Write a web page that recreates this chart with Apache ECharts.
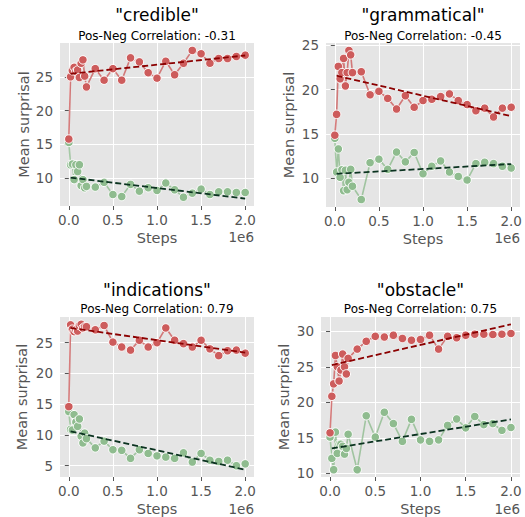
<!DOCTYPE html>
<html>
<head>
<meta charset="utf-8">
<script src="https://cdn.jsdelivr.net/npm/echarts@6/dist/echarts.min.js"></script>
<style>html,body{margin:0;padding:0;background:#fff}#c{width:525px;height:517px}</style>
</head>
<body>
<div id="c"></div>
<script>
const steps = [0, 20000, 40000, 60000, 80000, 100000, 120000, 140000, 160000, 180000, 200000,
  300000, 400000, 500000, 600000, 700000, 800000, 900000, 1000000, 1100000, 1200000,
  1300000, 1400000, 1500000, 1600000, 1700000, 1800000, 1900000, 2000000];
const words = ['"credible"', '"grammatical"', '"indications"', '"obstacle"'];
const correlations = ['-0.31', '-0.45', '0.79', '0.75'];

const credibleRed = [15.8, 25.0, 25.9, 26.4, 25.8, 26.0, 24.9, 27.0, 27.5, 25.1, 23.5, 26.2, 24.5, 26.2, 24.5, 27.8, 27.2, 25.6, 24.8, 27.3, 25.3, 27.0, 28.9, 28.4, 27.0, 27.7, 27.7, 28.0, 28.2];
const credibleGreen = [15.3, 12.0, 12.1, 9.8, 12.0, 11.0, 12.0, 8.9, 9.8, 8.6, 8.8, 8.7, 9.4, 7.6, 7.3, 9.1, 8.1, 8.6, 8.2, 9.3, 8.3, 7.2, 7.8, 8.4, 7.6, 8.0, 8.0, 7.9, 7.9];
const grammaticalRed = [14.85, 17.2, 22.6, 21.2, 21.9, 23.5, 20.4, 21.9, 24.4, 23.9, 21.9, 22.0, 19.4, 19.8, 19.0, 17.8, 19.3, 18.0, 18.75, 18.9, 19.2, 19.5, 18.75, 18.3, 17.6, 17.9, 16.9, 17.9, 18.0];
const grammaticalGreen = [14.5, 10.7, 13.3, 10.1, 10.95, 8.6, 10.9, 8.7, 9.55, 11.0, 9.1, 7.6, 11.75, 12.15, 11.0, 12.95, 11.85, 12.9, 10.5, 11.35, 11.95, 10.7, 10.2, 9.8, 11.65, 11.8, 11.65, 11.35, 11.15];
const indicationsRed = [14.6, 27.9, 27.2, 26.8, 27.1, 26.9, 27.8, 28.0, 27.4, 27.6, 27.6, 27.1, 27.8, 25.1, 24.3, 23.8, 25.4, 24.3, 25.0, 27.4, 25.4, 24.85, 24.3, 25.4, 24.0, 22.9, 23.7, 23.8, 23.3];
const indicationsGreen = [13.8, 10.9, 10.8, 13.3, 12.1, 11.4, 12.6, 9.8, 8.7, 10.3, 9.4, 7.9, 9.0, 7.6, 7.5, 6.2, 7.6, 7.0, 6.6, 6.4, 6.2, 7.1, 5.6, 7.0, 5.9, 5.7, 5.9, 5.0, 5.3];
const obstacleRed = [15.7, 20.85, 22.6, 26.6, 25.0, 23.0, 24.55, 26.8, 25.0, 24.0, 26.2, 27.5, 28.6, 29.3, 29.2, 29.45, 29.0, 28.75, 28.85, 29.45, 27.5, 29.3, 29.1, 29.45, 29.6, 29.6, 29.55, 29.6, 29.7];
const obstacleGreen = [15.1, 12.1, 10.5, 15.8, 12.8, 14.1, 14.1, 13.8, 12.7, 13.5, 15.5, 10.5, 18.1, 15.1, 18.6, 17.0, 14.5, 17.6, 14.7, 14.5, 14.7, 16.75, 17.65, 16.4, 18.0, 16.85, 17.0, 16.05, 16.45];

const trendSteps = [20000, 2000000];
const credibleRedTrend = [25.45, 28.15];
const credibleGreenTrend = [10.1, 7.0];
const grammaticalRedTrend = [21.55, 17.0];
const grammaticalGreenTrend = [10.5, 11.6];
const indicationsRedTrend = [27.4, 23.4];
const indicationsGreenTrend = [10.6, 4.35];
const obstacleRedTrend = [25.25, 31.0];
const obstacleGreenTrend = [13.5, 17.6];

const xTicks = [0, 500000, 1000000, 1500000, 2000000];
const yTicks = [[10, 15, 20, 25], [10, 15, 20, 25], [5, 10, 15, 20, 25], [10, 15, 20, 25, 30]];

const reds = [credibleRed, grammaticalRed, indicationsRed, obstacleRed];
const greens = [credibleGreen, grammaticalGreen, indicationsGreen, obstacleGreen];
const redTrends = [credibleRedTrend, grammaticalRedTrend, indicationsRedTrend, obstacleRedTrend];
const greenTrends = [credibleGreenTrend, grammaticalGreenTrend, indicationsGreenTrend, obstacleGreenTrend];

const grids = [
  {left: 60, top: 43, width: 194, height: 163},
  {left: 326, top: 43, width: 194, height: 164},
  {left: 60, top: 317, width: 194, height: 161},
  {left: 321, top: 317, width: 199, height: 161}
];
const yNameGap = [25, 30, 31, 30];
const titleY = [[15, 35.5], [15, 35.5], [289.5, 308.5], [289.5, 308.5]];

const FONT = 'DejaVu Sans';
const GRAY = '#555555';
const RED = '#CD5C5C', GREEN = '#8FBC8F';

const zip = (xs, ys) => xs.map((x, i) => [x, ys[i]]);

const option = {
  animation: false,
  backgroundColor: '#ffffff',
  grid: grids.map(g => Object.assign({show: true, backgroundColor: '#E5E5E5', borderWidth: 0}, g)),
  xAxis: grids.map((g, i) => ({
    type: 'value', gridIndex: i, min: -100000, max: 2100000,
    name: 'Steps', nameLocation: 'middle', nameGap: 24,
    nameTextStyle: {fontFamily: FONT, fontSize: 14.5, color: GRAY},
    axisLine: {show: false},
    axisTick: {show: true, length: 4, lineStyle: {color: GRAY}, customValues: xTicks},
    axisLabel: {fontFamily: FONT, fontSize: 13.5, color: GRAY, margin: 7, customValues: xTicks,
      formatter: v => (v / 1e6).toFixed(1)},
    splitLine: {show: true, lineStyle: {color: '#ffffff', width: 1}}
  })),
  yAxis: grids.map((g, i) => ({
    type: 'value', gridIndex: i,
    min: v => v.min - 0.05 * (v.max - v.min),
    max: v => v.max + 0.05 * (v.max - v.min),
    name: 'Mean surprisal', nameLocation: 'middle', nameGap: yNameGap[i], nameRotate: 90,
    nameTextStyle: {fontFamily: FONT, fontSize: 14.5, color: GRAY},
    axisLine: {show: false},
    axisTick: {show: true, length: 4, lineStyle: {color: GRAY}, customValues: yTicks[i]},
    axisLabel: {fontFamily: FONT, fontSize: 13.5, color: GRAY, margin: 7, customValues: yTicks[i]},
    splitLine: {show: true, lineStyle: {color: '#ffffff', width: 1}}
  })),
  series: [],
  graphic: []
};

for (let i = 0; i < 4; i++) {
  const common = {type: 'line', xAxisIndex: i, yAxisIndex: i, symbol: 'circle', symbolSize: 8.5, z: 2};
  option.series.push(Object.assign({}, common, {
    data: zip(steps, greens[i]),
    itemStyle: {color: GREEN, borderColor: '#ffffff', borderWidth: 1},
    lineStyle: {color: GREEN, width: 1.6, opacity: 0.8}
  }));
  option.series.push(Object.assign({}, common, {
    data: zip(steps, reds[i]),
    itemStyle: {color: RED, borderColor: '#ffffff', borderWidth: 1},
    lineStyle: {color: RED, width: 1.6, opacity: 0.8}
  }));
  option.series.push({
    type: 'line', xAxisIndex: i, yAxisIndex: i, symbol: 'none', z: 3,
    data: zip(trendSteps, redTrends[i]),
    lineStyle: {color: '#8B0000', width: 1.8, type: [6, 3]}
  });
  option.series.push({
    type: 'line', xAxisIndex: i, yAxisIndex: i, symbol: 'none', z: 3,
    data: zip(trendSteps, greenTrends[i]),
    lineStyle: {color: '#0B3320', width: 1.8, type: [6, 3]}
  });
  const g = grids[i];
  const cx = g.left + g.width / 2;
  option.graphic.push({type: 'text', x: cx, y: titleY[i][0],
    style: {text: words[i], font: 'normal 400 17px "DejaVu Sans"', fill: '#000', textAlign: 'center', textVerticalAlign: 'middle'}});
  option.graphic.push({type: 'text', x: cx, y: titleY[i][1],
    style: {text: 'Pos-Neg Correlation: ' + correlations[i], font: 'normal 400 12px "DejaVu Sans"', fill: '#000', textAlign: 'center', textVerticalAlign: 'middle'}});
  option.graphic.push({type: 'text', x: g.left + g.width, y: g.top + g.height + 31,
    style: {text: '1e6', font: 'normal 400 13.5px "DejaVu Sans"', fill: GRAY, textAlign: 'right', textVerticalAlign: 'middle'}});
}

const chart = echarts.init(document.getElementById('c'), null, {renderer: 'svg'});
chart.setOption(option);
</script>
</body>
</html>
